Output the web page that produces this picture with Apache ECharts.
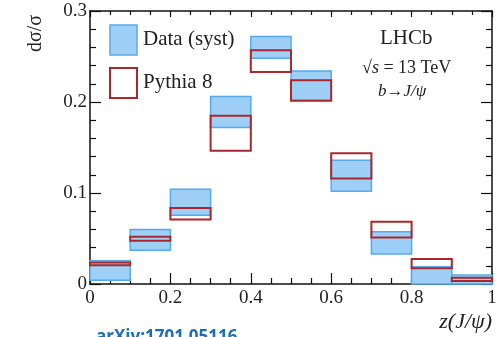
<!DOCTYPE html>
<html>
<head>
<meta charset="utf-8">
<script src="https://cdn.jsdelivr.net/npm/echarts@6/dist/echarts.min.js"></script>
<style>
  html, body { margin: 0; padding: 0; background: #fff; }
  #chart { width: 503px; height: 337px; }
</style>
</head>
<body>
<div id="chart"></div>
<script>
// bin edges of z(J/psi)
var binLow  = [0.0, 0.1, 0.2, 0.3, 0.4, 0.5, 0.6, 0.7, 0.8, 0.9];
var binHigh = [0.1, 0.2, 0.3, 0.4, 0.5, 0.6, 0.7, 0.8, 0.9, 1.0];
// data with systematic band (low / high)
var dataLow  = [0.004, 0.037, 0.0755, 0.172, 0.248, 0.202, 0.102, 0.033, 0.000, 0.000];
var dataHigh = [0.0256, 0.060, 0.104, 0.206, 0.272, 0.234, 0.136, 0.0575, 0.019, 0.010];
// Pythia 8 band (low / high)
var pyLow  = [0.0205, 0.0476, 0.071, 0.1465, 0.233, 0.2015, 0.116, 0.051, 0.0172, 0.0033];
var pyHigh = [0.0235, 0.052, 0.0835, 0.185, 0.257, 0.224, 0.1436, 0.0685, 0.0275, 0.007];

var blueFill = '#9dcff7';
var blueLine = '#55aaee';
var red = '#a8282e';
var ink = '#111';
var serif = '"Liberation Serif", "DejaVu Serif", serif';

function boxes(lo, hi) {
  var out = [];
  for (var i = 0; i < binLow.length; i++) {
    out.push([binLow[i], binHigh[i], lo[i], hi[i]]);
  }
  return out;
}

function makeRender(fill, stroke, lw) {
  return function (params, api) {
    var p0 = api.coord([api.value(0), api.value(3)]);
    var p1 = api.coord([api.value(1), api.value(2)]);
    return {
      type: 'rect',
      shape: { x: p0[0], y: p0[1], width: p1[0] - p0[0], height: p1[1] - p0[1] },
      style: { fill: fill, stroke: stroke, lineWidth: lw }
    };
  };
}

function fmt(v) { return v === 0 ? '0' : String(+v.toFixed(1)); }
var tickLabel = { fontFamily: serif, fontSize: 19, color: '#222', formatter: fmt };

// mirrored frame axis (ticks only)
function frameAxis(base, pos, major, minor) {
  return Object.assign({}, base, {
    position: pos,
    axisLine: { show: true, onZero: false, lineStyle: { color: ink, width: 1.5 } },
    axisTick: { show: true, inside: true, length: major, lineStyle: { color: ink, width: 1.2 } },
    minorTick: Object.assign({}, base.minorTick, { length: minor }),
    axisLabel: { show: false },
    splitLine: { show: false }
  });
}

var xBase = { type: 'value', min: 0, max: 1, interval: 0.2,
  minorTick: { show: true, splitNumber: 4, lineStyle: { color: ink, width: 1.2 } } };
var yBase = { type: 'value', min: 0, max: 0.3, interval: 0.1,
  minorTick: { show: true, splitNumber: 5, lineStyle: { color: ink, width: 1.2 } } };

var xMain = frameAxis(xBase, 'bottom', 11, 6);
xMain.axisLabel = Object.assign({ show: true, margin: 5 }, tickLabel);
var yMain = frameAxis(yBase, 'left', 11, 6);
yMain.axisLabel = Object.assign({ show: true, margin: 3 }, tickLabel);

var chart = echarts.init(document.getElementById('chart'));
chart.setOption({
  animation: false,
  grid: { left: 90, right: 11, top: 11, bottom: 53 },
  xAxis: [xMain, frameAxis(xBase, 'top', 6, 4)],
  yAxis: [yMain, frameAxis(yBase, 'right', 11, 6)],
  series: [{
    name: 'Data (syst)',
    type: 'custom',
    renderItem: makeRender(blueFill, blueLine, 1.5),
    encode: { x: [0, 1], y: [2, 3] },
    data: boxes(dataLow, dataHigh),
    z: 2
  }, {
    name: 'Pythia 8',
    type: 'custom',
    renderItem: makeRender('rgba(0,0,0,0)', red, 2),
    encode: { x: [0, 1], y: [2, 3] },
    data: boxes(pyLow, pyHigh),
    z: 3
  }],
  graphic: [
    // legend
    { type: 'rect', shape: { x: 110, y: 25, width: 27, height: 30 }, style: { fill: blueFill, stroke: blueLine, lineWidth: 1.5 } },
    { type: 'text', left: 143, top: 29, style: { text: 'Data (syst)', font: '21px ' + serif, fill: '#222' } },
    { type: 'rect', shape: { x: 110, y: 68, width: 27, height: 30 }, style: { fill: '#fff', stroke: red, lineWidth: 2 } },
    { type: 'text', left: 143, top: 72, style: { text: 'Pythia 8', font: '21px ' + serif, fill: '#222' } },
    // experiment labels
    { type: 'text', left: 380, top: 28, style: { text: 'LHCb', font: '21px ' + serif, fill: '#222' } },
    { type: 'text', left: 362, top: 59, style: {
      text: '√{i|s} = 13 TeV', font: '18px ' + serif, fill: '#222',
      rich: { i: { fontStyle: 'italic', fontFamily: serif, fontSize: 18 } }
    } },
    { type: 'text', left: 378, top: 83, style: { text: 'b→J/ψ', font: 'italic 17px ' + serif, fill: '#222' } },
    // axis titles
    { type: 'text', x: 26, y: 52, rotation: Math.PI / 2, style: { text: 'dσ/σ', font: '20px ' + serif, fill: '#222', align: 'left', verticalAlign: 'top' } },
    { type: 'text', right: 11, top: 311, style: { text: 'z(J/ψ)', font: 'italic 22px ' + serif, fill: '#222' } },
    { type: 'text', left: 96, top: 329, style: { text: 'arXiv:1701.05116', font: 'bold 17px "Open Sans", sans-serif', fill: '#1a6fb8' } }
  ]
});
</script>
</body>
</html>
